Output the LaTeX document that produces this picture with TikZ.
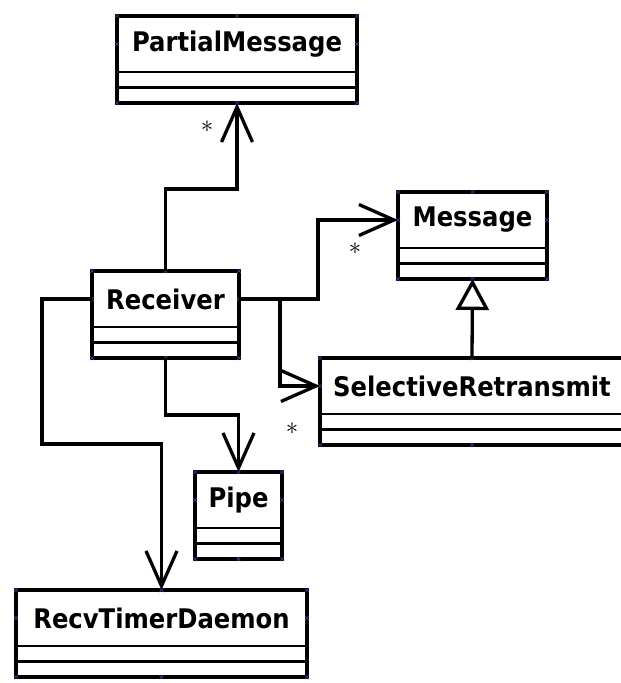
\documentclass[tikz,border=0pt]{standalone}
\usepackage{fontspec}
\newfontfamily\classfont{DejaVu Sans Condensed}
\usetikzlibrary{arrows.meta}

\definecolor{handleblue}{RGB}{60,60,150}

\tikzset{
  classbox/.style={draw, line width=3.3pt, minimum height=87pt, inner sep=0pt, outer sep=0pt, anchor=north west},
  classname/.style={minimum height=56pt, inner sep=0pt, outer sep=0pt, anchor=north west,
    font=\classfont\bfseries\fontsize{27}{30}\selectfont},
  sep/.style={line width=2.8pt},
  assoc/.style={line width=3.3pt, -{Straight Barb[length=35pt,width=31pt]}},
  inherit/.style={line width=3.3pt, -{Triangle[open,length=31pt,width=33pt,fill=white]}},
  mult/.style={inner sep=0pt, font=\fontsize{24}{24}\selectfont},
  handle/.style={draw=handleblue, line width=0.7pt}
}

\begin{document}
\begin{tikzpicture}[x=1pt,y=-1pt]
\useasboundingbox (0,0) rectangle (621,683);
\clip (0,0) rectangle (621,683);

% classes: box, name compartment, two empty compartments
\foreach \n/\x/\y/\w/\t in {pm/117/16/240/PartialMessage, msg/398/192/149/Message,
    rcv/92/271/147/Receiver, sr/320/358/304/SelectiveRetransmit,
    pipe/195/472/87/Pipe, rtd/16/590/291/RecvTimerDaemon}
{
  \node[classbox, minimum width=\w pt] (\n) at (\x,\y) {};
  \node[classname, minimum width=\w pt] (\n-name) at (\x,\y) {\t};
  \draw[sep] (\n-name.south west) -- (\n-name.south east)
    ([yshift=-15.5pt]\n-name.south west) -- ([yshift=-15.5pt]\n-name.south east);
}

% selection handles
\foreach \n in {pm,msg,rcv,sr,pipe,rtd}
{
  \foreach \a in {\n.north west,\n.north,\n.north east,\n.south west,\n.south,\n.south east,\n-name.west,\n-name.east}
    \draw[handle] (\a) +(-2,-2) -- +(2,2) +(-2,2) -- +(2,-2);
}

% associations
\draw[assoc] (rcv.north) -- (rcv.north |- 0,189) -| (pm.south);
\draw[assoc] (rcv-name.east) -| ([xshift=-80pt]msg-name.west) -- (msg-name.west);
\draw[assoc] (rcv-name.east) -| ([xshift=-40pt]sr-name.west) -- (sr-name.west);
\draw[assoc] (rcv.south) -- (rcv.south |- 0,415) -| (pipe.north);
\draw[assoc] (rcv-name.west) -| (42,444) -| (rtd.north);

% generalisation
\draw[inherit] (sr.north) -- (msg.south);

% multiplicities
\node[mult] (pm-mult) at (207,127) {$*$};
\node[mult] (msg-mult) at (355,249) {$*$};
\node[mult] (sr-mult) at (292,429) {$*$};
\end{tikzpicture}
\end{document}
